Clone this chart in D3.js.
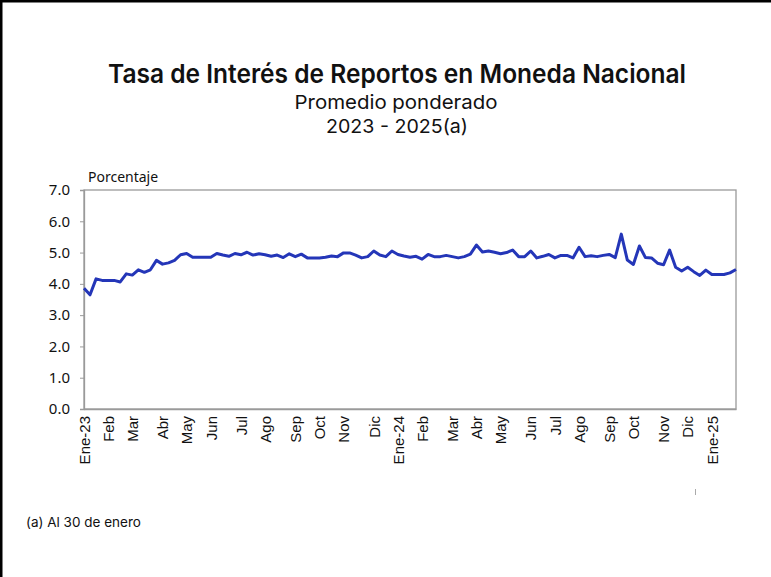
<!DOCTYPE html>
<html>
<head>
<meta charset="utf-8">
<script src="https://cdn.jsdelivr.net/npm/d3@7"></script>
<style>
  body { margin: 0; background: #fff; }
  svg { display: block; }
</style>
</head>
<body>
<div id="chart"></div>
<script>
// weekly series (Thursdays), first obs 5 Jan 2023, last obs 30 Jan 2025
var startDate = "2023-01-05";
var rates = [
  3.86, 3.65, 4.16, 4.11, 4.11, 4.11, 4.06, 4.32, 4.28, 4.45,
  4.37, 4.45, 4.75, 4.63, 4.67, 4.75, 4.93, 4.97, 4.85, 4.85,
  4.85, 4.85, 4.97, 4.92, 4.88, 4.97, 4.93, 5.01, 4.92, 4.96,
  4.93, 4.88, 4.92, 4.84, 4.96, 4.87, 4.95, 4.83, 4.83, 4.83,
  4.85, 4.89, 4.87, 4.99, 4.99, 4.92, 4.83, 4.87, 5.05, 4.92,
  4.87, 5.05, 4.94, 4.89, 4.85, 4.88, 4.79, 4.94, 4.87, 4.87,
  4.91, 4.87, 4.83, 4.87, 4.95, 5.24, 5.02, 5.05, 5.01, 4.96,
  5.00, 5.08, 4.87, 4.87, 5.05, 4.83, 4.88, 4.94, 4.83, 4.91,
  4.91, 4.83, 5.17, 4.87, 4.90, 4.87, 4.91, 4.94, 4.84, 5.59,
  4.76, 4.62, 5.21, 4.84, 4.83, 4.66, 4.61, 5.08, 4.53, 4.41,
  4.53, 4.39, 4.27, 4.44, 4.30, 4.30, 4.30, 4.35, 4.46
];
var monthNames = ["Ene", "Feb", "Mar", "Abr", "May", "Jun", "Jul", "Ago", "Sep", "Oct", "Nov", "Dic"];
var yTicks = [0, 1, 2, 3, 4, 5, 6, 7];

var title = "Tasa de Interés de Reportos en Moneda Nacional";
var subtitle = "Promedio ponderado";
var period = "2023 - 2025(a)";
var yLabel = "Porcentaje";
var note = "(a) Al 30 de enero";

// 0.size
var svgW = 771, svgH = 577;
var margin = {top: 190, right: 35, bottom: 168, left: 84};
var plotW = svgW - margin.left - margin.right;
var plotH = svgH - margin.top - margin.bottom;

var svg = d3.select("#chart").append("svg").attr("width", svgW).attr("height", svgH);

// frame of the image (left and top only)
svg.append("line").attr("x1", 1).attr("y1", 0).attr("x2", 1).attr("y2", svgH)
  .attr("stroke", "#000").attr("stroke-width", 3);
svg.append("line").attr("x1", 0).attr("y1", 1).attr("x2", svgW).attr("y2", 1)
  .attr("stroke", "#000").attr("stroke-width", 3);

// titles
function fitText(sel, len) {
  sel.attr("textLength", len).attr("lengthAdjust", "spacingAndGlyphs");
}
svg.append("text").attr("x", 397).attr("y", 83).attr("text-anchor", "middle")
  .style("font", "600 26px Inter, 'Noto Sans', sans-serif").style("fill", "#111")
  .text(title).call(fitText, 578);
svg.append("text").attr("x", 396).attr("y", 109).attr("text-anchor", "middle")
  .style("font", "400 19px Inter, 'Noto Sans', sans-serif").style("fill", "#111")
  .text(subtitle).call(fitText, 203);
svg.append("text").attr("x", 397).attr("y", 133).attr("text-anchor", "middle")
  .style("font", "400 19px Inter, 'Noto Sans', sans-serif").style("fill", "#111")
  .text(period).call(fitText, 142);

// data
var parse = d3.utcParse("%Y-%m-%d");
var t0 = parse(startDate);
var data = rates.map(function (v, i) {
  return {date: d3.utcDay.offset(t0, 7 * i), value: v};
});

var x = d3.scaleUtc()
  .domain([data[0].date, data[data.length - 1].date])
  .range([0, plotW]);
var y = d3.scaleLinear().domain([0, 7]).range([plotH, 0]);

// first observation of every month gets a label
var tickDates = data.filter(function (d, i) {
  return i === 0 || d.date.getUTCMonth() !== data[i - 1].date.getUTCMonth();
}).map(function (d) { return d.date; });

function monthLabel(d) {
  var m = d.getUTCMonth();
  if (m === 0) return monthNames[0] + "-" + String(d.getUTCFullYear()).slice(2);
  return monthNames[m];
}

var g = svg.append("g").attr("transform", "translate(" + margin.left + "," + margin.top + ")");

// plot box
g.append("rect").attr("x", 0).attr("y", 0).attr("width", plotW).attr("height", plotH)
  .attr("fill", "none").attr("stroke", "#9a9a9a").attr("stroke-width", 1.3);

var yAxis = g.append("g")
  .call(d3.axisLeft(y).tickValues(yTicks).tickFormat(d3.format(".1f")).tickSize(4).tickPadding(10));
yAxis.select(".domain").attr("stroke", "#9a9a9a").attr("stroke-width", 1.3);
yAxis.selectAll(".tick line").attr("stroke", "#9a9a9a");
yAxis.selectAll("text")
  .style("font", "15px 'Noto Sans', sans-serif").style("fill", "#111");

var xAxis = g.append("g").attr("transform", "translate(0," + plotH + ")")
  .call(d3.axisBottom(x).tickValues(tickDates).tickFormat(monthLabel).tickSize(0));
xAxis.select(".domain").attr("stroke", "#9a9a9a").attr("stroke-width", 1.3);
xAxis.selectAll("text")
  .attr("transform", "rotate(-90)")
  .attr("x", -7).attr("y", 0).attr("dy", "0.35em")
  .style("text-anchor", "end")
  .style("font", "15px 'Liberation Sans', Arial, sans-serif").style("fill", "#111");

// y label
g.append("text").attr("x", 4).attr("y", -8)
  .style("font", "14px 'Noto Sans', sans-serif").style("fill", "#111")
  .text(yLabel);

// series
var line = d3.line()
  .x(function (d) { return x(d.date); })
  .y(function (d) { return y(d.value); });

g.append("path").datum(data)
  .attr("d", line)
  .attr("fill", "none")
  .attr("stroke", "#2436b8")
  .attr("stroke-width", 3)
  .attr("stroke-linejoin", "round");

// footnote
svg.append("text").attr("x", 26).attr("y", 527)
  .style("font", "13.5px Inter, 'Noto Sans', sans-serif").style("fill", "#111")
  .text(note);

// small stray tick mark seen under the chart
svg.append("line").attr("x1", 695.5).attr("y1", 489).attr("x2", 695.5).attr("y2", 495)
  .attr("stroke", "#aaa").attr("stroke-width", 1);
</script>
</body>
</html>
